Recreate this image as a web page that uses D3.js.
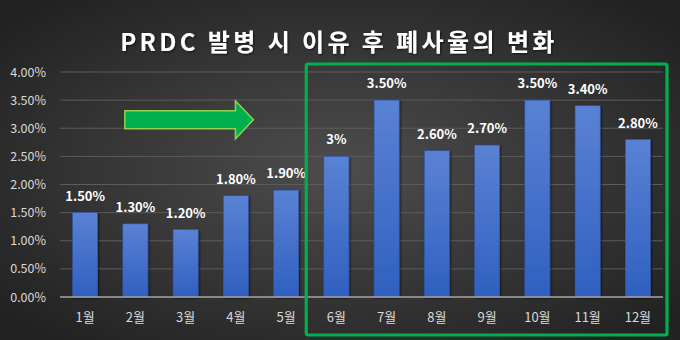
<!DOCTYPE html>
<html>
<head>
<meta charset="utf-8">
<script src="https://cdn.jsdelivr.net/npm/d3@7"></script>
<style>
  html, body { margin: 0; padding: 0; background: #2b2b2b; }
  svg { display: block; }
</style>
</head>
<body>
<div id="chart"></div>
<script>
// data
const months = ['1월', '2월', '3월', '4월', '5월', '6월', '7월', '8월', '9월', '10월', '11월', '12월'];
const rates = [1.5, 1.3, 1.2, 1.8, 1.9, 2.5, 3.5, 2.6, 2.7, 3.5, 3.4, 2.8];
const rateLabels = ['1.50%', '1.30%', '1.20%', '1.80%', '1.90%', '3%', '3.50%', '2.60%', '2.70%', '3.50%', '3.40%', '2.80%'];
const yTicks = [0, 0.5, 1, 1.5, 2, 2.5, 3, 3.5, 4];
const highlightFrom = '6월';

const W = 680, H = 340;
const margin = { top: 72, right: 17, bottom: 43, left: 60 };
const width = W - margin.left - margin.right;
const height = H - margin.top - margin.bottom;
const font = "'Noto Sans CJK KR', 'Noto Sans', sans-serif";

const svg = d3.select('#chart').append('svg')
  .attr('width', W).attr('height', H)
  .style('font-family', font);

const defs = svg.append('defs');

// fondo
const bg = defs.append('radialGradient').attr('id', 'bg')
  .attr('cx', '50%').attr('cy', '50%').attr('r', '65%');
bg.append('stop').attr('offset', '0%').attr('stop-color', '#4d4d4d');
bg.append('stop').attr('offset', '100%').attr('stop-color', '#222');

const barGrad = defs.append('linearGradient').attr('id', 'bar')
  .attr('x1', 0).attr('y1', 0).attr('x2', 0).attr('y2', 1);
barGrad.append('stop').attr('offset', '0%').attr('stop-color', '#5a82d4');
barGrad.append('stop').attr('offset', '100%').attr('stop-color', '#3060c0');

const shadow = defs.append('filter').attr('id', 'shadow')
  .attr('x', '-20%').attr('y', '-20%').attr('width', '140%').attr('height', '140%');
shadow.append('feDropShadow').attr('dx', 1).attr('dy', 1).attr('stdDeviation', 1.2)
  .attr('flood-color', '#000').attr('flood-opacity', 0.6);

svg.append('rect').attr('width', W).attr('height', H).attr('fill', 'url(#bg)');

// Título
svg.append('text')
  .attr('x', W / 2 - 1).attr('y', 51)
  .attr('text-anchor', 'middle')
  .attr('fill', '#fff')
  .attr('filter', 'url(#shadow)')
  .style('font-size', '24px')
  .style('font-weight', 'bold')
  .style('letter-spacing', '3.4px')
  .text('PRDC 발병 시 이유 후 폐사율의 변화');

const g = svg.append('g').attr('transform', `translate(${margin.left},${margin.top})`);

const x = d3.scaleBand().domain(months).range([0, width]).paddingInner(0.5).paddingOuter(0.25);
const y = d3.scaleLinear().domain([0, 4]).range([height, 0]);

// líneas horizontales
g.append('g').selectAll('line')
  .data(yTicks.filter(d => d > 0))
  .enter().append('line')
  .attr('x1', 0).attr('x2', width)
  .attr('y1', d => y(d)).attr('y2', d => y(d))
  .attr('stroke', '#5c5c5c').attr('stroke-width', 1);

// eje y
const yAxis = g.append('g')
  .call(d3.axisLeft(y).tickValues(yTicks).tickSize(0).tickPadding(14)
    .tickFormat(d => d3.format('.2f')(d) + '%'));
yAxis.select('.domain').remove();
yAxis.selectAll('text').attr('fill', '#d9d9d9').style('font-size', '12.5px').style('font-family', font);

// barras
g.append('g').selectAll('rect')
  .data(rates)
  .enter().append('rect')
  .attr('x', (d, i) => x(months[i]))
  .attr('y', d => y(d))
  .attr('width', x.bandwidth())
  .attr('height', d => height - y(d))
  .attr('fill', 'url(#bar)')
  .attr('stroke', '#2f55a8')
  .attr('stroke-width', 0.6)
  .attr('filter', 'url(#shadow)');

// eje x
g.append('line')
  .attr('x1', 0).attr('x2', width)
  .attr('y1', height).attr('y2', height)
  .attr('stroke', '#a6a6a6').attr('stroke-width', 1.5);

const xAxis = g.append('g')
  .attr('transform', `translate(0,${height})`)
  .call(d3.axisBottom(x).tickSize(0).tickPadding(16));
xAxis.select('.domain').remove();
xAxis.selectAll('text').attr('fill', '#d9d9d9').style('font-size', '13px').style('font-family', font);

// etiquetas
g.append('g').selectAll('text')
  .data(rates)
  .enter().append('text')
  .attr('x', (d, i) => x(months[i]) + x.bandwidth() / 2)
  .attr('y', d => y(d) - 12)
  .attr('text-anchor', 'middle')
  .attr('fill', '#fff')
  .style('font-size', '13px')
  .style('font-weight', 'bold')
  .text((d, i) => rateLabels[i]);

// caja verde
const boxX = x(highlightFrom) - (x.step() - x.bandwidth()) / 2 - 5;
g.append('rect')
  .attr('x', boxX)
  .attr('y', y(4) - 8)
  .attr('width', width + 4 - boxX)
  .attr('height', H - margin.top - 5 - (y(4) - 8) + 0)
  .attr('rx', 2)
  .attr('fill', 'none')
  .attr('stroke', '#00b050')
  .attr('stroke-width', 3.2);

// flecha
const ax0 = x('2월') + 2, ax1 = x('4월') + x.bandwidth() + 5;
const headX = ax1 - 18;
const ym = y(3.15);
const arrow = [
  [ax0, ym - 9], [headX, ym - 9], [headX, ym - 19], [ax1, ym],
  [headX, ym + 19], [headX, ym + 9], [ax0, ym + 9]
];
g.append('path')
  .attr('d', d3.line()(arrow) + 'Z')
  .attr('fill', '#00b050')
  .attr('stroke', '#92d050')
  .attr('stroke-width', 1.5);
</script>
</body>
</html>
